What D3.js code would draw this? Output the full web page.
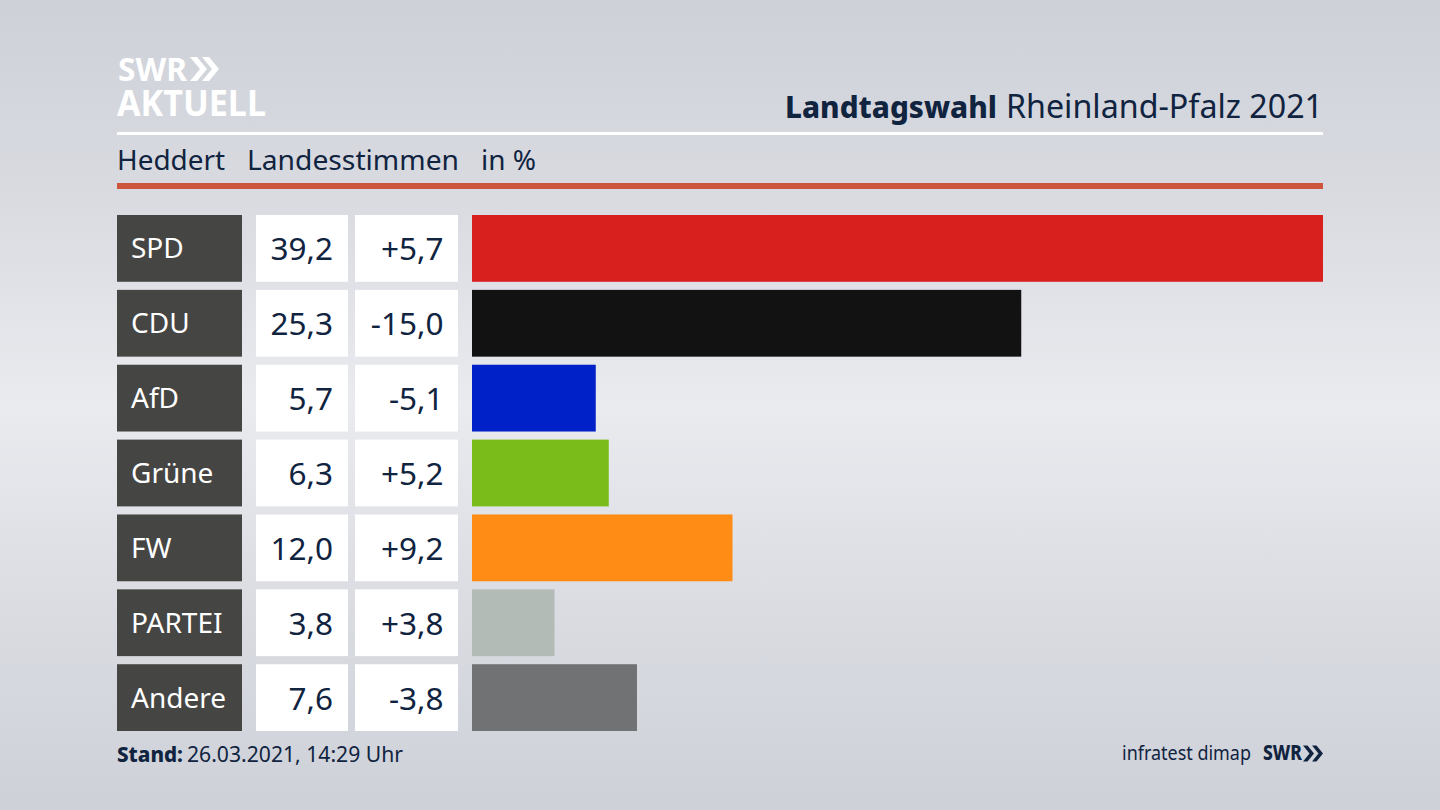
<!DOCTYPE html>
<html><head><meta charset="utf-8">
<script src="https://cdn.jsdelivr.net/npm/d3@7/dist/d3.min.js"></script>
<style>html,body{margin:0;padding:0;background:#d5d8de;overflow:hidden}svg{display:block}text{font-family:"Noto Sans",sans-serif;fill:#10233f}</style>
</head><body><svg id="c" width="1440" height="810"></svg>
<script>
const parties=["SPD","CDU","AfD","Grüne","FW","PARTEI","Andere"];
const shares=[39.2,25.3,5.7,6.3,12.0,3.8,7.6];
const changes=["+5,7","-15,0","-5,1","+5,2","+9,2","+3,8","-3,8"];
const colors=["#d8201f","#121212","#0020c8","#7abd1b","#ff8c14","#b2bbb5","#717274"];

const svg=d3.select("#c");
const defs=svg.append("defs");
const g=defs.append("linearGradient").attr("id","bg").attr("x1",0).attr("y1",0).attr("x2",0).attr("y2",1);
[[0,"#ced1d8"],[0.25,"#d9dbe1"],[0.5,"#e9ebef"],[0.75,"#dadce2"],[1,"#ced1d8"]].forEach(d=>g.append("stop").attr("offset",d[0]).attr("stop-color",d[1]));
svg.append("rect").attr("width",1440).attr("height",810).attr("fill","url(#bg)");

const y=d3.scaleBand().domain(parties).range([215,731]).paddingInner(0.108).paddingOuter(0);
const x=d3.scaleLinear().domain([0,39.2]).range([472,1323]);
const fmt=v=>d3.format(".1f")(v).replace(".",",");
const fit=(s,w)=>s.attr("textLength",w).attr("lengthAdjust","spacingAndGlyphs");

// header
fit(svg.append("text").attr("x",118).attr("y",81).attr("font-size",33).attr("font-weight",700).style("fill","#fff"),69).text("SWR");
fit(svg.append("text").attr("x",117).attr("y",116).attr("font-size",36).attr("font-weight",700).style("fill","#fff"),149).text("AKTUELL");
const chev=(x0,yc,h,w,t)=>`M${x0},${yc-h/2}h${t}l${w},${h/2}l${-w},${h/2}h${-t}l${w},${-h/2}z`;
svg.append("path").attr("d",chev(190,69,24,10,7)+chev(202,69,24,10,7)).attr("fill","#fff");

fit(svg.append("text").attr("x",785).attr("y",118).attr("font-size",31).attr("font-weight",800),212).text("Landtagswahl");
fit(svg.append("text").attr("x",1006).attr("y",118).attr("font-size",32),317).text("Rheinland-Pfalz 2021");

svg.append("rect").attr("x",117).attr("y",132).attr("width",1206).attr("height",3).attr("fill","#fff");
svg.append("rect").attr("x",117).attr("y",183).attr("width",1206).attr("height",6).attr("fill","#cc553b");

[["Heddert",117,108],["Landesstimmen",247,212],["in %",481,55]].forEach(d=>
 fit(svg.append("text").attr("x",d[1]).attr("y",170).attr("font-size",28),d[2]).text(d[0]));

// rows
const rows=svg.selectAll("g.row").data(parties.map((p,i)=>({p,s:shares[i],c:changes[i],col:colors[i]}))).join("g").attr("class","row")
 .attr("transform",d=>`translate(0,${y(d.p)})`);
const h=y.bandwidth();
rows.append("rect").attr("x",117).attr("width",125).attr("height",h).attr("fill","#454543");
rows.append("rect").attr("x",256).attr("width",92).attr("height",h).attr("fill","#fff");
rows.append("rect").attr("x",355).attr("width",103).attr("height",h).attr("fill","#fff");
rows.append("rect").attr("x",x(0)).attr("width",d=>x(d.s)-x(0)).attr("height",h).attr("fill",d=>d.col);
rows.append("text").attr("x",131).attr("y",h/2+10).attr("font-size",28).style("fill","#fff").text(d=>d.p);
rows.append("text").attr("x",333).attr("y",h/2+12).attr("text-anchor","end").attr("font-size",31.5).text(d=>fmt(d.s));
rows.append("text").attr("x",443.5).attr("y",h/2+12).attr("text-anchor","end").attr("font-size",31.5).text(d=>d.c);

// footer
fit(svg.append("text").attr("x",117).attr("y",762).attr("font-size",22).attr("font-weight",800),66).text("Stand:");
fit(svg.append("text").attr("x",187).attr("y",762).attr("font-size",22),216).text("26.03.2021, 14:29 Uhr");
fit(svg.append("text").attr("x",1122).attr("y",760).attr("font-size",20),129).text("infratest dimap");
fit(svg.append("text").attr("x",1263).attr("y",760).attr("font-size",21).attr("font-weight",800),39).text("SWR");
svg.append("path").attr("d",chev(1303,753.5,16,6.5,4.5)+chev(1312,753.5,16,6.5,4.5)).attr("fill","#10233f");
</script></body></html>
